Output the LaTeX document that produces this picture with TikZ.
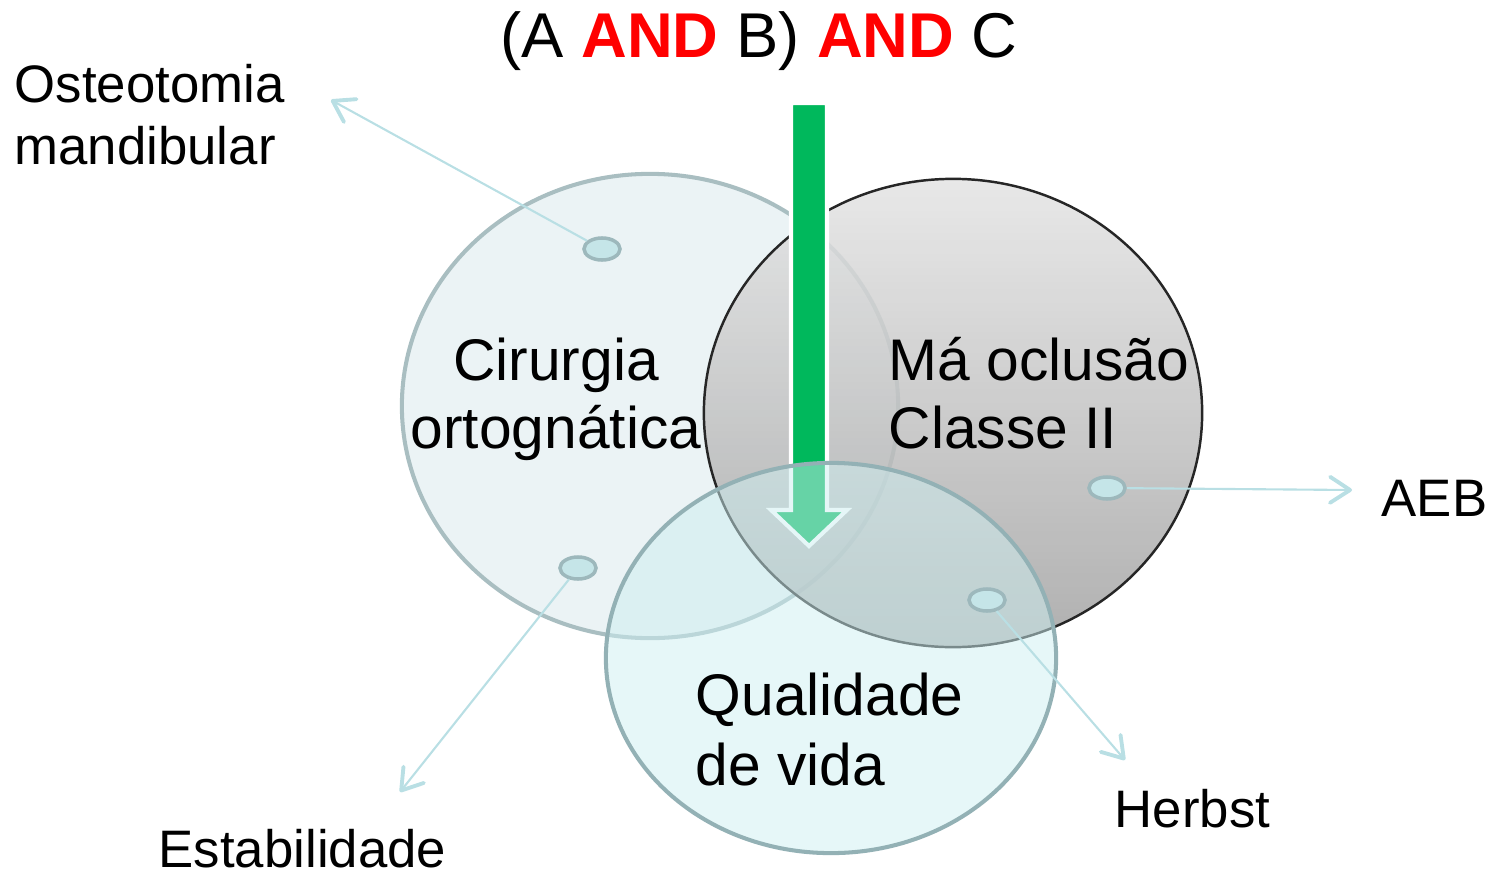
\documentclass[tikz,border=0pt]{standalone}
\usepackage{fontspec}
\setmainfont{Liberation Sans}
\usepackage{xcolor}
\usepackage{tikz}
\usetikzlibrary{positioning, arrows.meta, shapes.geometric}

\definecolor{cirfill}{HTML}{EBF3F5}
\definecolor{cirline}{HTML}{A9BEC1}
\definecolor{qvfill}{HTML}{CDEFF1}
\definecolor{qvline}{HTML}{93B1B5}
\definecolor{maltop}{HTML}{E4E4E4}
\definecolor{malbot}{HTML}{A2A2A2}
\definecolor{dotfill}{HTML}{C5E5E8}
\definecolor{dotline}{HTML}{9DB8BC}
\definecolor{linkcol}{HTML}{B9DFE4}
\definecolor{arrgreen}{HTML}{00B85C}

\begin{document}
\begin{tikzpicture}[x=0.01cm, y=-0.01cm,
    every node/.style={font=\fontsize{16.7}{19.3}\selectfont, inner sep=0pt},
    outer/.style={font=\fontsize{15}{17.9}\selectfont},
    setbox/.style={ellipse, line width=1.15pt},
    dot/.style={ellipse, draw=dotline, line width=1pt, fill=dotfill,
        minimum width=0.36cm, minimum height=0.22cm},
    link/.style={draw=linkcol, line width=0.6pt,
        -{Straight Barb[length=2mm, width=2.6mm, line width=1.1pt, round]}}]
    \useasboundingbox (0,0) rectangle (1498,879);

    % the three sets
    \node[setbox, draw=cirline, fill=cirfill, minimum width=4.96cm, minimum height=4.64cm] (cir) at (650,406) {};
    \node[setbox, draw=black!85, line width=0.7pt, top color=maltop, bottom color=malbot, fill opacity=0.85,
        minimum width=4.98cm, minimum height=4.68cm] (mal) at (953,413) {};
    \draw[white, line width=1.15pt, fill=arrgreen] (791,103) -- (827,103) -- (827,510) -- (847,510)
        -- (809,546) -- (771,510) -- (791,510) -- cycle;
    \node[setbox, draw=qvline, fill=qvfill, fill opacity=0.5, minimum width=4.5cm, minimum height=3.9cm] (qv) at (831,658) {};

    \node[anchor=base] (title) at (759,58) {\fontsize{18}{20}\selectfont (A \textcolor{red}{\textbf{AND}} B) \textcolor{red}{\textbf{AND}} C};

    \node[align=center, anchor=base] (cirtxt) at (556,448) {Cirurgia\\ortognática};
    \node[align=left, anchor=base west] (maltxt) at (888,448) {Má oclusão\\Classe II};
    \node[align=left, anchor=base west, font=\fontsize{16.7}{19.8}\selectfont] (qvtxt) at (695,785) {Qualidade\\de vida};

    % small dots and their labels
    \foreach \n/\x/\y in {dost/602/249, dest/578/568, daeb/1107/488, dher/987/600} {
        \node[dot] (\n) at (\x,\y) {};
    }
    \node[outer, align=left, anchor=base west] (ost) at (14,165) {Osteotomia\\mandibular};
    \node[outer, anchor=base west] (est) at (158,867) {Estabilidade};
    \node[outer, anchor=base west] (aeb) at (1381,516) {AEB};
    \node[outer, anchor=base west] (her) at (1114,827) {Herbst};

    \coordinate (tost) at (331,100);
    \coordinate (test) at (400,792);
    \coordinate (taeb) at (1352,490);
    \coordinate (ther) at (1125,760);
    \foreach \d/\t in {dost/tost, dest/test, daeb/taeb, dher/ther} {
        \draw[link] (\d) -- (\t);
    }
\end{tikzpicture}
\end{document}
